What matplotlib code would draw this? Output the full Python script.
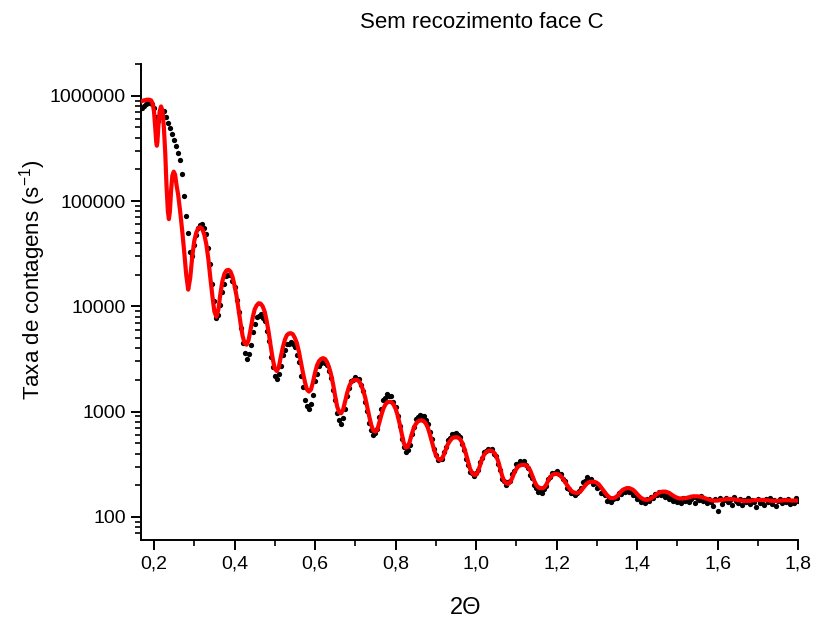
import numpy as np
import matplotlib
matplotlib.use("Agg")
import matplotlib.pyplot as plt
from matplotlib.ticker import FixedLocator, FuncFormatter, LogLocator, NullFormatter

plt.rcParams['font.family'] = ['Liberation Sans', 'DejaVu Sans']
plt.rcParams['mathtext.fontset'] = 'custom'
plt.rcParams['mathtext.rm'] = 'Liberation Sans'
plt.rcParams['mathtext.it'] = 'Liberation Sans'

# ---------------- data ----------------
title = "Sem recozimento face C"
x_label = "2\u0398"
y_label = "Taxa de contagens (s$^{\\mathregular{-1}}$)"

# measured points: uniform 2-theta grid
meas_start = 0.170
meas_step = 0.005
measured_counts = [
    759000, 794000, 832000, 851000, 857000, 832000, 759000, 631000, 570000, 631000,
    692000, 708000, 631000, 550000, 497000, 437000, 380000, 331000, 288000, 245000,
    182000, 112000, 72400, 50100, 33100, 30200, 38000, 47900, 55000, 58900,
    60500, 55500, 48600, 35800, 25400, 16300, 11200, 7800, 8300, 10300,
    13800, 16300, 19400, 19700, 19800, 17500, 15100, 11500, 8850, 6200,
    4480, 3620, 3150, 3540, 4290, 5720, 6800, 7900, 8100, 8400,
    7800, 7200, 5800, 4650, 3320, 2680, 2190, 2050, 2290, 2700,
    3450, 3820, 4350, 4380, 4550, 4350, 4130, 3480, 2930, 2200,
    1730, 1290, 1140, 1050, 1190, 1450, 1950, 2300, 2740, 2880,
    3040, 2900, 2790, 2410, 2070, 1590, 1280, 960, 825, 760,
    865, 1050, 1400, 1680, 1940, 2010, 2110, 2040, 2020, 1790,
    1570, 1240, 1015, 780, 670, 595, 620, 680, 885, 1055,
    1280, 1360, 1460, 1420, 1400, 1240, 1115, 900, 735, 555,
    463, 410, 433, 483, 612, 715, 845, 880, 928, 908,
    915, 840, 770, 638, 545, 441, 386, 346, 353, 358,
    413, 461, 532, 568, 618, 615, 630, 595, 570, 494,
    433, 358, 314, 270, 262, 246, 261, 278, 330, 366,
    414, 420, 446, 432, 440, 400, 378, 318, 281, 229,
    219, 203, 214, 220, 257, 276, 315, 318, 340, 328,
    337, 310, 294, 251, 234, 199, 190, 174, 178, 170,
    186, 196, 230, 240, 263, 260, 275, 258, 256, 229,
    218, 190, 186, 170, 169, 160, 170, 178, 187, 213,
    218, 240, 224, 228, 205, 210, 188, 192, 168, 167,
    160, 143, 150, 139, 148, 152, 150, 168, 165, 180,
    174, 183, 172, 175, 160, 162, 147, 150, 139, 145,
    136, 147, 142, 155, 152, 166, 161, 171, 162, 167,
    154, 159, 147, 152, 141, 149, 140, 146, 136, 150,
    143, 152, 139, 148, 155, 137, 150, 144, 158, 141,
    146, 135, 149, 140, 128, 147, 115, 152, 133, 144,
    150, 139, 145, 131, 156, 142, 137, 148, 129, 145,
    140, 151, 134, 146, 138, 124, 149, 136, 143, 130,
    147, 138, 152, 133, 144, 127, 141, 149, 135, 146,
    139, 148, 134, 143, 137, 150, 141,
]

# fitted curve: explicit head (fine sampling) + uniform tail
fit_head_x = [0.168, 0.175, 0.182, 0.188, 0.193, 0.197, 0.200, 0.203, 0.2055,
              0.207, 0.2085, 0.211, 0.214, 0.2175, 0.221, 0.2245, 0.228, 0.231,
              0.2345, 0.237, 0.2395, 0.2425, 0.2455, 0.249, 0.2525, 0.256]
fit_head_counts = [883000, 902000, 916000, 916000, 902000, 832000, 708000, 501000,
                   363000, 335000, 363000, 525000, 708000, 791000, 724000, 501000,
                   282000, 141000, 79400, 67300, 79400, 126000, 174000, 190000,
                   178000, 141000]
fit_tail_start = 0.260
fit_tail_step = 0.005
fit_tail_counts = [
    115000, 79400, 52500, 33100, 20000, 14400, 18600, 29500, 41700, 50100,
    55200, 56400, 54300, 47900, 38900, 28200, 18600, 12600, 8910, 7940,
    9330, 13200, 17400, 20400, 21900, 22200, 21400, 19100, 15800, 12600,
    9330, 6920, 5250, 4470, 4320, 4790, 6030, 7760, 9330, 10200,
    10700, 10600, 10000, 8910, 7240, 5620, 4170, 3160, 2570, 2430,
    2630, 3310, 4070, 4790, 5310, 5520, 5560, 5430, 5010, 4470,
    3720, 2950, 2340, 1910, 1620, 1550, 1620, 1910, 2340, 2750,
    3020, 3160, 3220, 3160, 2950, 2630, 2240, 1820, 1410, 1120,
    989, 966, 1050, 1260, 1510, 1740, 1910, 1980, 2000, 2000,
    1930, 1780, 1580, 1350, 1100, 891, 741, 661, 646, 676,
    794, 933, 1070, 1170, 1230, 1240, 1230, 1170, 1070, 933,
    776, 631, 513, 457, 462, 513, 603, 692, 759, 804,
    822, 826, 813, 776, 708, 617, 525, 447, 389, 359,
    348, 355, 389, 437, 490, 525, 556, 569, 571, 569,
    550, 513, 457, 398, 339, 288, 263, 251, 251, 269,
    309, 355, 389, 412, 424, 427, 422, 407, 380, 339,
    288, 245, 219, 209, 206, 214, 234, 263, 285, 302,
    309, 312, 312, 309, 295, 275, 245, 219, 200, 191,
    188, 187, 191, 204, 224, 240, 251, 256, 256, 254,
    245, 234, 219, 204, 191, 180, 173, 170, 169, 170,
    176, 186, 197, 207, 213, 216, 216, 215, 211, 204,
    193, 182, 172, 162, 155, 151, 151, 152, 157, 164,
    174, 181, 185, 188, 188, 185, 181, 174, 166, 158,
    152, 148, 146, 145, 147, 150, 155, 160, 166, 171,
    173, 174, 174, 172, 169, 164, 159, 155, 152, 150,
    150, 150, 151, 152, 154, 156, 157, 157, 157, 156,
    155, 153, 150, 148, 146, 144, 143, 143, 143, 144,
    145, 146, 147, 148, 148, 148, 147, 146, 145, 144,
    143, 142, 142, 142, 142, 143, 144, 144, 145, 145,
    145, 145, 144, 144, 143, 142, 142, 142, 142, 143,
    143, 144, 144, 144, 144, 143, 143, 143, 143,
]

x_ticks = [0.2, 0.4, 0.6, 0.8, 1.0, 1.2, 1.4, 1.6, 1.8]
y_ticks = [100, 1000, 10000, 100000, 1000000]

# ---------------- plot ----------------
meas_x = meas_start + meas_step * np.arange(len(measured_counts))
fit_x = np.concatenate([fit_head_x,
                        fit_tail_start + fit_tail_step * np.arange(len(fit_tail_counts))])
fit_y = np.concatenate([fit_head_counts, fit_tail_counts])

fig = plt.figure(figsize=(8.14, 6.21), dpi=100)
ax = fig.add_axes([141/814, 81/621, 657/814, 476/621])

ax.plot(meas_x, measured_counts, 'o', color='black', ms=3.8, mew=0, zorder=2)
ax.plot(fit_x, fit_y, '-', color='#ff0000', lw=3.0, zorder=3)

ax.set_yscale('log')
ax.set_xlim(0.1677, 1.8)
ax.set_ylim(60.4, 2.0e6)

for s in ['top', 'right']:
    ax.spines[s].set_visible(False)
for s in ['left', 'bottom']:
    ax.spines[s].set_linewidth(1.4)

ax.xaxis.set_major_locator(FixedLocator(x_ticks))
ax.xaxis.set_minor_locator(FixedLocator([0.3, 0.5, 0.7, 0.9, 1.1, 1.3, 1.5, 1.7]))
ax.xaxis.set_major_formatter(FuncFormatter(lambda v, p: f"{v:.1f}".replace('.', ',')))
ax.yaxis.set_major_locator(FixedLocator(y_ticks))
ax.yaxis.set_minor_locator(LogLocator(base=10, subs=np.arange(2, 10)))
ax.yaxis.set_minor_formatter(NullFormatter())
ax.yaxis.set_major_formatter(FuncFormatter(lambda v, p: f"{int(round(v))}"))

ax.tick_params(which='major', direction='out', length=7, width=1.4, labelsize=14, pad=4)
ax.tick_params(which='minor', direction='out', length=4, width=1.2)

fig.text(482/814, 1 - 22/621, title, ha='center', va='center', fontsize=16)
fig.text(466/814, 1 - 608/621, x_label, ha='center', va='center', fontsize=17)
fig.text(33/814, 1 - 280/621, y_label, ha='center', va='center', rotation=90, fontsize=16)

fig.savefig('out.png', dpi=100)
